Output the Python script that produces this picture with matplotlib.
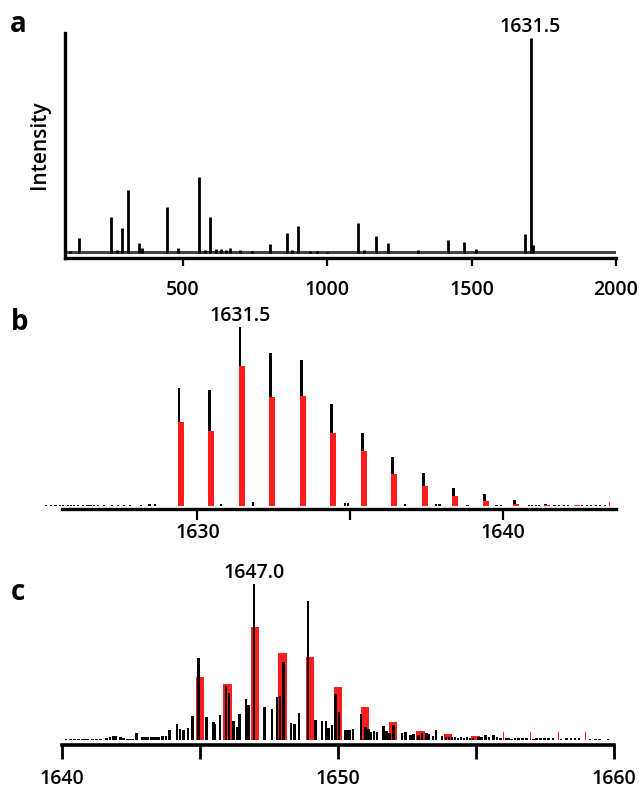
import matplotlib
matplotlib.use('Agg')
import matplotlib.pyplot as plt

plt.rcParams['font.family'] = ['Open Sans', 'DejaVu Sans']
plt.rcParams['font.weight'] = 'semibold'

# panel a: full spectrum (m/z, intensity in arbitrary units)
mz_a = [109, 140, 250, 271, 289, 308.5, 347, 357, 445, 483, 554, 576, 595, 613,
        632, 648, 663, 697, 739, 801, 860, 878, 899, 940, 963, 998, 1106, 1127,
        1169, 1209, 1314, 1417, 1475, 1515, 1686, 1704, 1712]
int_a = [2, 15, 36, 3, 25, 63, 10, 5, 46, 5, 76, 3, 36, 4,
         4, 3, 5, 3, 2, 9, 20, 3, 27, 2, 2, 1.5, 30, 3,
         17, 10, 3, 13, 11, 4, 19, 215, 8]
noise_a = 1.0
label_a = '1631.5'
ticks_a = [500, 1000, 1500, 2000]

# panel b: isotope cluster, measured (black) and simulated (red)
mz_b_meas = [1629.4, 1630.4, 1631.4, 1632.4, 1633.4, 1634.4, 1635.4, 1636.4,
             1637.4, 1638.4, 1639.4, 1640.4, 1641.4]
int_b_meas = [117.7, 115.7, 178.7, 153.3, 146, 102, 72.7, 48.7, 32.7, 18.3, 12.4, 6.4, 1.7]
mz_b_sim = [1629.45, 1630.45, 1631.45, 1632.45, 1633.45, 1634.45, 1635.45, 1636.45,
            1637.45, 1638.45, 1639.45, 1640.45, 1641.45, 1642.45]
int_b_sim = [84.3, 75, 140.3, 108.7, 110, 72.7, 55, 32, 20, 10.5, 5, 2.4, 1, 0.7]
mz_b_sim_end = [1643.5]
int_b_sim_end = [4]
mz_b_noise = [1625.05, 1625.2, 1625.35, 1625.5, 1625.6, 1625.75, 1625.85, 1625.95,
              1626.1, 1626.25, 1626.4, 1626.5, 1626.6, 1626.75, 1626.95, 1627.2,
              1627.4, 1627.6, 1627.8, 1628.14, 1628.43, 1628.62, 1630.77, 1631.81,
              1634.83, 1634.94, 1636.79, 1637.82, 1637.93, 1638.85, 1639.8, 1639.95,
              1640.85, 1640.95, 1641.1, 1641.2, 1641.7, 1641.85, 1642.0, 1642.15,
              1642.6, 1642.75, 1642.9, 1643.05, 1643.2, 1643.35]
int_b_noise = [1, 1, 1, 1.2, 1.2, 1, 1, 1,
               1, 0.7, 1, 1, 1, 0.7, 0.7, 1,
               0.7, 0.7, 0.7, 1.5, 2, 2, 2.3, 4.5,
               3, 3, 2, 2, 2, 1, 1.3, 1.3,
               1, 1, 1, 1, 0.7, 0.7, 0.7, 0.7,
               0.7, 0.7, 0.7, 0.7, 0.7, 0.7]
label_b = '1631.5'
ticks_b = [1630, 1635, 1640]
ticklabels_b = ['1630', '', '1640']

# panel c: second cluster
mz_c_meas = [1640.15, 1640.3, 1640.45, 1640.6, 1640.75, 1640.85, 1640.95, 1641.1,
             1641.25, 1641.4, 1641.62, 1641.74, 1641.86, 1641.96, 1642.13, 1642.23,
             1642.35, 1642.45, 1642.55, 1642.71, 1642.92, 1643.02, 1643.12, 1643.22,
             1643.32, 1643.42, 1643.52, 1643.65, 1643.77, 1643.9, 1644.17, 1644.28,
             1644.4, 1644.57, 1644.73, 1644.95, 1645.24, 1645.49, 1645.55, 1645.73,
             1645.94, 1646.05, 1646.22, 1646.34, 1646.44, 1646.67, 1646.76, 1646.97,
             1647.34, 1647.61, 1647.79, 1647.91, 1648.03, 1648.3, 1648.43, 1648.6,
             1648.92, 1649.2, 1649.42, 1649.58, 1649.67, 1649.79, 1649.91, 1650.04,
             1650.27, 1650.36, 1650.45, 1650.55, 1650.85, 1651.0, 1651.12, 1651.2,
             1651.32, 1651.42, 1651.66, 1651.76, 1651.87, 1652.02, 1652.33, 1652.45,
             1652.63, 1652.75, 1652.93, 1653.06, 1653.21, 1653.31, 1653.45, 1653.57,
             1653.78, 1653.92, 1654.03, 1654.14, 1654.25, 1654.36, 1654.47, 1654.58,
             1654.69, 1654.8, 1654.91, 1655.1, 1655.22, 1655.35, 1655.48, 1655.64,
             1655.78, 1655.9, 1656.1, 1656.2, 1656.3, 1656.42, 1656.55, 1656.7,
             1656.85, 1657.1, 1657.2, 1657.35, 1657.5, 1657.65, 1657.8, 1658.1,
             1658.3, 1658.45, 1658.6, 1658.75, 1659.15, 1659.35, 1659.5, 1659.8]
int_c_meas = [0.8, 0.8, 0.8, 1, 1, 1, 1.2, 1,
              1.2, 1.5, 2.3, 2.7, 3.7, 3.7, 3, 2.3,
              1.5, 1.5, 1.5, 6.7, 2.7, 3, 2.7, 3,
              3, 3.3, 3, 4, 4, 10, 16, 10.7,
              10, 12, 24.3, 82, 22.7, 18.3, 15.7, 25,
              54, 47.3, 19, 13.3, 26, 40.7, 35, 155.7,
              33.3, 30.7, 43.3, 44, 78.3, 17.3, 16, 26.7,
              139, 20, 19, 19, 11.7, 15, 45.7, 28.3,
              10, 10, 10, 11, 26, 12.7, 11, 8.3,
              9.3, 7.7, 13.7, 9.3, 7, 15, 6.7, 8.3,
              5, 6, 5, 6.7, 6.7, 6, 4.3, 10,
              4.3, 2.7, 2.7, 2.7, 2.7, 2.5, 2.7, 2.5,
              3, 2.5, 2.5, 3, 2.7, 5, 3, 5,
              2.7, 2, 2, 2, 1.5, 2, 2.5, 2,
              2, 1.5, 2, 2, 2.5, 2, 2, 1.5,
              2, 2, 2.5, 2, 1.5, 1.5, 1.5, 1.2]
mz_c_sim = [1645, 1646, 1647, 1648, 1649, 1650, 1651, 1652, 1653, 1654, 1655]
int_c_sim = [62.7, 56, 112.7, 86.7, 82.7, 52.7, 32.7, 17.7, 8.7, 5.7, 3.7]
mz_c_sim_tail = [1656, 1657, 1658, 1659]
int_c_sim_tail = [8.3, 7.7, 8.3, 8.3]
label_c = '1647.0'
ticks_c = [1640, 1645, 1650, 1655, 1660]
ticklabels_c = ['1640', '', '1650', '', '1660']

RED = '#ff1c1c'
W, H = 639, 791


def box(x0, x1, ytop, ybot):
    return [x0 / W, 1 - ybot / H, (x1 - x0) / W, (ybot - ytop) / H]


def style(ax, spine_lw, tick_len, tick_w, pad):
    for s in ['top', 'right', 'left']:
        ax.spines[s].set_visible(False)
    ax.spines['bottom'].set_linewidth(spine_lw)
    ax.set_yticks([])
    ax.tick_params(axis='x', direction='out', length=tick_len, width=tick_w,
                   pad=pad, labelsize=14)
    ax.patch.set_alpha(0)


def main():
    fig = plt.figure(figsize=(W / 100, H / 100), dpi=100)

    # a
    ax = fig.add_axes(box(65, 616, 33, 258))
    style(ax, 2.4, 6, 1.6, 9.5)
    ax.spines['left'].set_visible(True)
    ax.spines['left'].set_linewidth(2.4)
    ax.axhline(noise_a, color='#444444', lw=2.2, zorder=1)
    ax.vlines(mz_a, 0, int_a, color='black', lw=2.0, zorder=2)
    ax.set_xlim(91, 2000)
    ax.set_ylim(-5, 220)
    ax.set_xticks(ticks_a)
    top = int_a.index(max(int_a))
    ax.annotate(label_a, (mz_a[top], int_a[top]), xytext=(0, 1),
                textcoords='offset points', ha='center', va='bottom', fontsize=14)

    # b
    ax = fig.add_axes(box(41.7, 615.6, 320, 509))
    style(ax, 2.4, 8, 1.6, 2)
    ax.bar(mz_b_noise, int_b_noise, width=0.07, color='black', zorder=2)
    ax.bar(mz_b_meas, int_b_meas, width=0.09, color='black', zorder=2)
    ax.bar(mz_b_sim, int_b_sim, width=0.2, color=RED, zorder=3)
    ax.bar(mz_b_sim_end, int_b_sim_end, width=0.04, color=RED, zorder=3)
    ax.set_xlim(1624.9, 1643.7)
    ax.set_ylim(-3, 186)
    ax.spines['bottom'].set_bounds(1625.55, 1643.7)
    ax.set_xticks(ticks_b)
    ax.set_xticklabels(ticklabels_b)
    top = int_b_meas.index(max(int_b_meas))
    ax.annotate(label_b, (mz_b_meas[top], int_b_meas[top]), xytext=(0, 1),
                textcoords='offset points', ha='center', va='bottom', fontsize=14)

    # c
    ax = fig.add_axes(box(62, 613.5, 580, 744.5))
    style(ax, 2.6, 10, 2, 8)
    ax.bar(mz_c_sim, int_c_sim, width=0.3, color=RED, zorder=2)
    ax.bar(mz_c_sim_tail, int_c_sim_tail, width=0.04, color=RED, zorder=2)
    ax.bar(mz_c_meas, int_c_meas, width=0.09, color='black', zorder=3)
    ax.set_xlim(1640, 1660)
    ax.set_ylim(-4.5, 160)
    ax.set_xticks(ticks_c)
    ax.set_xticklabels(ticklabels_c)
    top = int_c_meas.index(max(int_c_meas))
    ax.annotate(label_c, (mz_c_meas[top], int_c_meas[top]), xytext=(0, 1),
                textcoords='offset points', ha='center', va='bottom', fontsize=14)

    fig.text(39 / W, 1 - 145 / H, 'Intensity', rotation=90, ha='center',
             va='center', fontsize=15)
    for lab, x, y in [('a', 18, 25), ('b', 20, 322), ('c', 18, 593)]:
        fig.text(x / W, 1 - y / H, lab, ha='center', va='center',
                 fontsize=20, fontweight='bold')

    fig.savefig('out.png', dpi=100)


if __name__ == '__main__':
    main()
